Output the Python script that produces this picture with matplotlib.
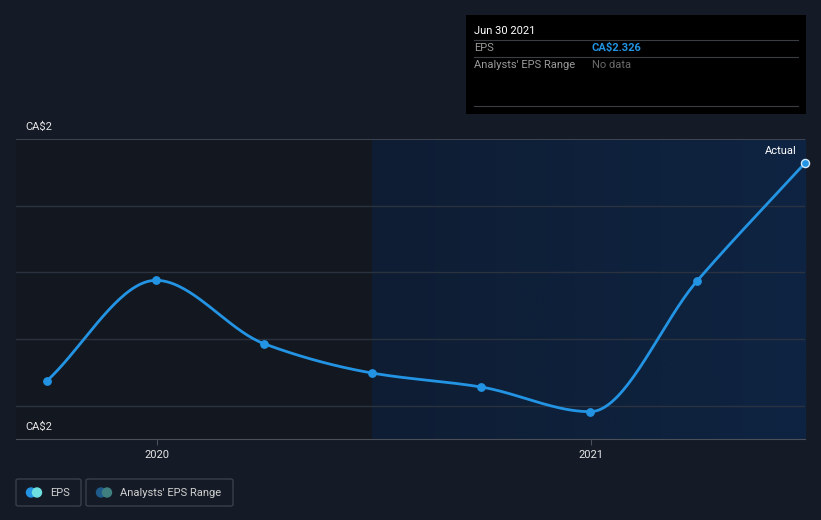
import numpy as np
import pandas as pd
import matplotlib
matplotlib.use("Agg")
import matplotlib.pyplot as plt
import matplotlib.dates as mdates
from matplotlib.patches import Rectangle, FancyBboxPatch

plt.rcParams["font.family"] = ["Roboto", "DejaVu Sans"]

# data
dates = pd.to_datetime(["2019-09-30", "2019-12-31", "2020-03-31", "2020-06-30",
                        "2020-09-30", "2020-12-31", "2021-03-31", "2021-06-30"])
eps = [1.999, 2.150, 2.055, 2.011, 1.990, 1.953, 2.149, 2.326]
tick_years = ["2020", "2021"]

bg = "#151b26"
line_c = "#2394e3"

fig = plt.figure(figsize=(8.21, 5.2), dpi=100, facecolor=bg)
W, H = 821, 520

def fx(px):
    return px / W

def fy(py):
    return 1 - py / H

ax = fig.add_axes([fx(16), fy(439), fx(805 - 16), (439 - 139) / H])
ax.set_facecolor("#13171f")

x = mdates.date2num(dates)
y = np.array(eps)

# monotone cubic (Fritsch-Carlson) for the smooth curve
def monotone(xs, ys, n=40):
    h = np.diff(xs)
    d = np.diff(ys) / h
    m = np.zeros(len(xs))
    m[0], m[-1] = d[0], d[-1]
    for i in range(1, len(xs) - 1):
        if d[i - 1] * d[i] <= 0:
            m[i] = 0
        else:
            w1 = 2 * h[i] + h[i - 1]
            w2 = h[i] + 2 * h[i - 1]
            m[i] = (w1 + w2) / (w1 / d[i - 1] + w2 / d[i])
    ox, oy = [], []
    for i in range(len(xs) - 1):
        t = np.linspace(0, 1, n)
        h00 = 2 * t**3 - 3 * t**2 + 1
        h10 = t**3 - 2 * t**2 + t
        h01 = -2 * t**3 + 3 * t**2
        h11 = t**3 - t**2
        ox.extend(xs[i] + t * h[i])
        oy.extend(h00 * ys[i] + h10 * h[i] * m[i] + h01 * ys[i + 1] + h11 * h[i] * m[i + 1])
    return np.array(ox), np.array(oy)

sx, sy = monotone(x, y)

xmin = mdates.date2num(pd.Timestamp("2019-09-04"))
xmax = x[-1]
ymin, ymax = 2.326 - (439 - 163) * 0.0015, 2.326 + (163 - 139) * 0.0015
ax.set_xlim(xmin, xmax)
ax.set_ylim(ymin, ymax)

# highlighted "actual" region
split = mdates.date2num(pd.Timestamp("2020-06-30"))
grad = np.linspace(0, 1, 256).reshape(1, -1)
cmap = matplotlib.colors.LinearSegmentedColormap.from_list("g", ["#0e1d33", "#0e2442"])
ax.imshow(grad, extent=[split, xmax, ymin, ymax], aspect="auto", cmap=cmap, zorder=0)

for k in range(1, 5):
    ax.axhline(ymax - k * 0.1, color="#2a3240", lw=1, zorder=1)
ax.axhline(ymax, color="#474d57", lw=1.2, zorder=1)

ax.plot(sx, sy, color=line_c, lw=2.0, zorder=3, solid_capstyle="round")
ax.scatter(x[:-1], y[:-1], s=28, color=line_c, zorder=4)
ax.scatter(x[-1:], y[-1:], s=34, color=line_c, edgecolor="#cfe8fa", lw=1, zorder=5, clip_on=False)

for s in ["top", "right", "left"]:
    ax.spines[s].set_visible(False)
ax.spines["bottom"].set_color("#4a4f58")
ax.set_yticks([])
ax.set_xticks(mdates.date2num(pd.to_datetime([f"{t}-01-01" for t in tick_years])))
ax.set_xticklabels(tick_years, color="#e6e6e6", fontsize=8)
ax.tick_params(axis="x", colors="#4a4f58", length=4, pad=4, labelcolor="#e6e6e6")

fig.text(fx(25), fy(127), "CA$2", color="#e6e6e6", fontsize=8, va="center")
fig.text(fx(25), fy(427), "CA$2", color="#e6e6e6", fontsize=8, va="center")
fig.text(fx(797), fy(151), "Actual", color="#ffffff", fontsize=8, va="center", ha="right")

# tooltip box
fig.patches.append(Rectangle((fx(466), fy(114)), fx(806 - 466), (114 - 15) / H,
                             transform=fig.transFigure, facecolor="#000000", zorder=5))
for py in [40, 57, 106]:
    fig.lines.append(plt.Line2D([fx(474), fx(798)], [fy(py), fy(py)], transform=fig.transFigure,
                                color="#3a3d42", lw=0.8, zorder=6))
fig.text(fx(474), fy(31), "Jun 30 2021", color="#ffffff", fontsize=8, va="center", zorder=7)
fig.text(fx(474), fy(48), "EPS", color="#9a9a9a", fontsize=8, va="center", zorder=7)
fig.text(fx(592), fy(48), "CA$2.326", color=line_c, fontsize=8, va="center", weight="bold", zorder=7)
fig.text(fx(474), fy(65), "Analysts' EPS Range", color="#9a9a9a", fontsize=8, va="center", zorder=7)
fig.text(fx(592), fy(65), "No data", color="#6a6a6a", fontsize=8, va="center", zorder=7)

# legend
def legend_box(x0, x1, c1, c2, label):
    fig.patches.append(FancyBboxPatch((fx(x0), fy(506)), fx(x1 - x0), 27 / H,
                                      boxstyle="round,pad=0,rounding_size=0.003",
                                      transform=fig.transFigure, facecolor="none",
                                      edgecolor="#3a404a", lw=1))
    fig.patches.append(matplotlib.patches.Ellipse((fx(x0 + 15), fy(492.5)), 9 / W, 9 / H,
                                                  transform=fig.transFigure, color=c1))
    fig.patches.append(matplotlib.patches.Ellipse((fx(x0 + 21), fy(492.5)), 9 / W, 9 / H,
                                                  transform=fig.transFigure, color=c2))
    fig.text(fx(x0 + 34), fy(492.5), label, color="#d0d0d0", fontsize=8, va="center")

legend_box(16, 81, "#2394e3", "#6ee0e0", "EPS")
legend_box(86, 233, "#1e5a8a", "#3f7f80", "Analysts' EPS Range")

fig.savefig("out.png", dpi=100, facecolor=bg)
